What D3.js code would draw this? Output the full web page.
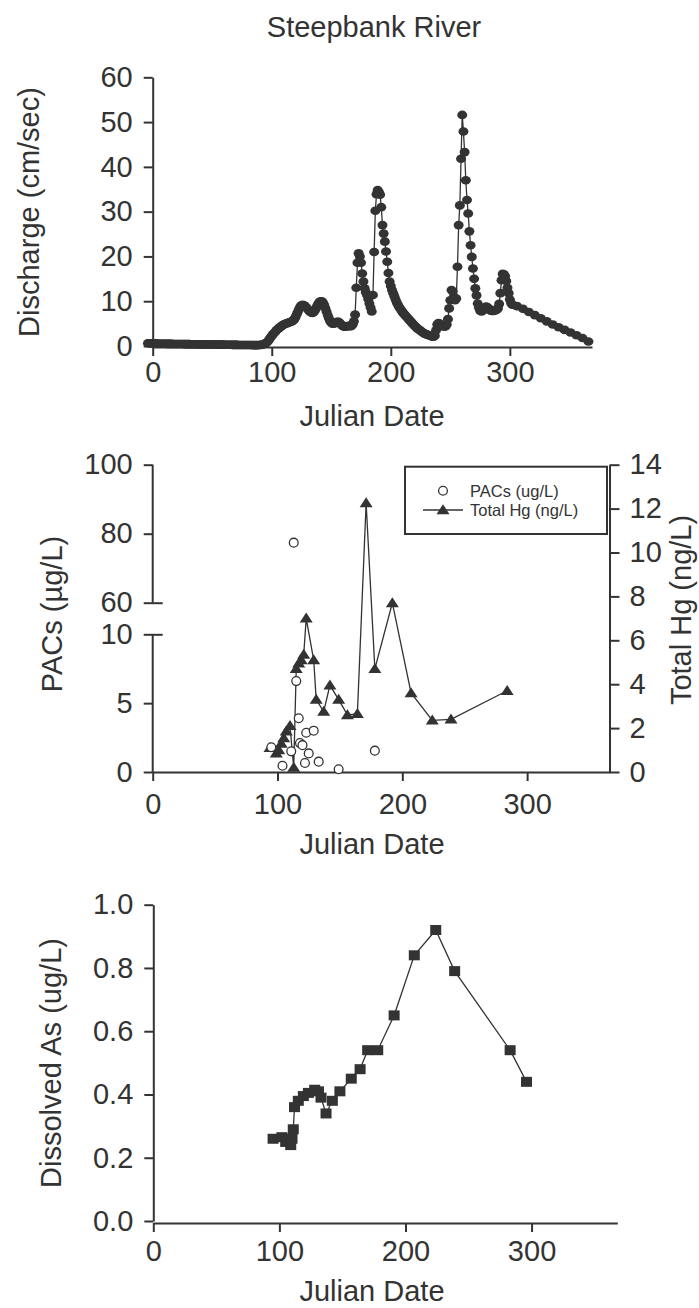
<!DOCTYPE html>
<html lang="en"><head>
<meta charset="utf-8">
<title>Steepbank River</title>
<script src="https://cdn.jsdelivr.net/npm/d3@7"></script>
<style>
body { margin: 0; background: #fff; }
svg text { font-family: "Liberation Sans", Arial, Helvetica, sans-serif; fill: #333; }
</style>
</head>
<body>
<svg id="fig" width="699" height="1308"></svg>
<script>

// daily discharge, first value is day -4, one value per day up to day 302
var dischargeStartDay = -4;
var dischargeDaily = [
  0.6,0.6,0.6,0.58,0.56,0.55,0.55,0.54,0.52,0.5,
  0.5,0.5,0.5,0.5,0.49,0.49,0.48,0.48,0.48,0.47,
  0.47,0.46,0.46,0.46,0.45,0.45,0.45,0.44,0.44,0.43,
  0.43,0.42,0.42,0.42,0.41,0.41,0.4,0.4,0.4,0.39,
  0.39,0.38,0.38,0.38,0.37,0.37,0.36,0.36,0.36,0.35,
  0.35,0.34,0.34,0.34,0.33,0.33,0.32,0.32,0.32,0.31,
  0.31,0.3,0.3,0.3,0.29,0.29,0.28,0.28,0.28,0.27,
  0.27,0.26,0.26,0.26,0.25,0.25,0.24,0.24,0.24,0.23,
  0.23,0.23,0.22,0.22,0.22,0.21,0.21,0.21,0.2,0.2,
  0.2,0.2,0.2,0.21,0.22,0.25,0.3,0.38,0.5,0.65,
  0.85,1.1,1.5,1.9,2.3,2.6,2.9,3.2,3.5,3.8,
  4.0,4.2,4.4,4.6,4.8,4.9,5.0,5.1,5.2,5.3,
  5.4,5.5,5.7,6.0,6.5,7.1,7.7,8.3,8.8,9.1,
  9.2,9.1,8.9,8.6,8.3,8.0,7.7,7.5,7.4,7.5,
  7.8,8.3,8.9,9.4,9.8,10.0,10.0,9.7,9.2,8.5,
  7.7,6.9,6.2,5.6,5.2,5.0,5.0,5.1,5.3,5.4,
  5.4,5.2,4.9,4.6,4.4,4.3,4.3,4.4,4.5,4.4,
  4.4,4.5,4.8,5.5,7.0,13.0,18.6,20.7,20.0,18.6,
  16.2,14.4,12.9,12.0,11.4,10.5,9.5,8.6,7.7,11.4,
  21.0,30.2,33.9,34.8,34.4,33.8,31.0,27.0,25.1,23.3,
  21.1,18.8,16.3,14.4,13.4,12.5,11.8,11.1,10.4,9.7,
  9.2,8.7,8.3,7.9,7.5,7.2,6.9,6.6,6.3,6.0,
  5.7,5.4,5.1,4.8,4.5,4.3,4.0,3.8,3.6,3.4,
  3.2,3.0,2.8,2.7,2.6,2.5,2.4,2.3,2.2,2.1,
  2.1,2.3,3.5,4.8,5.1,5.0,4.8,4.5,4.4,4.3,
  4.4,4.8,6.0,8.4,10.2,12.5,12.2,11.0,10.2,10.6,
  17.7,27.0,31.4,41.8,51.6,47.9,43.3,37.0,32.6,29.6,
  25.6,22.5,19.9,17.3,15.0,12.9,11.3,9.5,8.6,7.9,
  7.7,7.8,8.1,8.5,8.8,8.7,8.4,8.1,7.9,7.8,
  7.8,7.9,8.0,8.1,8.4,9.4,11.8,14.7,16.1,16.0,
  15.6,14.5,13.0,11.8,10.4,9.6,9.2
];
// late season readings, every 5 days
var dischargeTailDays = [306, 311, 316, 321, 326, 331, 336, 341, 346, 351, 356, 361, 366];
var dischargeTailValues = [8.9, 8.3, 7.6, 6.9, 6.2, 5.5, 4.8, 4.2, 3.6, 3.0, 2.4, 1.8, 1.0];

var hgDays = [94, 99, 101, 103, 105, 107, 110, 113, 115, 117, 119, 121, 123, 129, 131, 137, 142, 149, 156, 164, 171, 178, 192, 207, 224, 239, 284];
var hgValues = [1.1, 0.85, 1.0, 1.3, 1.55, 1.85, 2.1, 0.2, 4.7, 4.95, 5.1, 5.35, 7.0, 5.1, 3.3, 2.75, 3.95, 3.3, 2.6, 2.65, 12.25, 4.7, 7.7, 3.6, 2.35, 2.4, 3.7];

var pacDays = [95, 104, 111, 113, 115, 117, 118, 120, 122, 123, 125, 129, 133, 149, 178];
var pacValues = [1.8, 0.45, 1.5, 77.4, 6.6, 3.9, 2.1, 1.95, 0.65, 2.85, 1.35, 3.0, 0.75, 0.2, 1.55];

var asDays = [95, 102, 105, 109, 110, 111, 112, 115, 119, 123, 128, 131, 133, 137, 142, 148, 157, 164, 170, 178, 191, 207, 224, 239, 283, 296];
var asValues = [0.26, 0.265, 0.25, 0.24, 0.26, 0.29, 0.36, 0.38, 0.395, 0.405, 0.415, 0.41, 0.39, 0.34, 0.38, 0.41, 0.45, 0.48, 0.54, 0.54, 0.65, 0.84, 0.92, 0.79, 0.54, 0.44];

var dayTicks = [0, 100, 200, 300];
var dischargeTicks = [0, 10, 20, 30, 40, 50, 60];
var pacTicks = [0, 5, 10, 60, 80, 100];
var hgTicks = [0, 2, 4, 6, 8, 10, 12, 14];
var asTicks = [0, 0.2, 0.4, 0.6, 0.8, 1.0];

var ink = "#333";
var bigFont = 29;

var svg = d3.select("#fig");

function styleAxis(g) {
  g.selectAll("path, line").attr("stroke", ink).attr("stroke-width", 2);
  g.selectAll("text").attr("fill", ink).style("font-size", bigFont + "px");
}

function xLabel(x, y) {
  svg.append("text").attr("x", x).attr("y", y)
    .attr("text-anchor", "middle").style("font-size", bigFont + "px")
    .text("Julian Date");
}

function yLabel(x, y, label) {
  svg.append("text")
    .attr("transform", "translate(" + x + "," + y + ") rotate(-90)")
    .attr("text-anchor", "middle").style("font-size", bigFont + "px")
    .text(label);
}

svg.append("text").attr("x", 374).attr("y", 37)
  .attr("text-anchor", "middle").style("font-size", bigFont + "px")
  .text("Steepbank River");

// ---------- discharge ----------
var discharge = dischargeDaily.map(function (q, i) {
  return {day: dischargeStartDay + i, value: q};
}).concat(dischargeTailDays.map(function (d, i) {
  return {day: d, value: dischargeTailValues[i]};
}));

var x1 = d3.scaleLinear().domain([0, 369]).range([152.7, 592]);
var y1 = d3.scaleLinear().domain([0, 60]).range([346, 77.3]);

svg.append("g").attr("transform", "translate(0," + (y1(0) + 1) + ")")
  .call(d3.axisBottom(x1).tickValues(dayTicks).tickSize(9).tickSizeOuter(0).tickPadding(5))
  .call(styleAxis);
svg.append("g").attr("transform", "translate(" + x1(0) + ",0)")
  .call(d3.axisLeft(y1).tickValues(dischargeTicks).tickSize(9).tickSizeOuter(0).tickPadding(11))
  .call(styleAxis);

svg.append("path").datum(discharge)
  .attr("fill", "none").attr("stroke", ink).attr("stroke-width", 1.3)
  .attr("d", d3.line().x(function (d) { return x1(d.day); }).y(function (d) { return y1(d.value); }));

svg.append("g").selectAll("ellipse").data(discharge).enter().append("ellipse")
  .attr("cx", function (d) { return x1(d.day); })
  .attr("cy", function (d) { return y1(d.value); })
  .attr("rx", 5).attr("ry", 4.3)
  .attr("fill", ink);

xLabel(372, 426);
yLabel(38.5, 212, "Discharge (cm/sec)");

// ---------- PACs and total Hg ----------
var x2 = d3.scaleLinear().domain([0, 366]).range([152.7, 609.5]);
// broken left axis: 0-10 below the break, 60-100 above it
var y2 = d3.scaleLinear().domain([0, 10, 60, 100]).range([772, 634.3, 602.7, 464.7]);
var y2r = d3.scaleLinear().domain([0, 14]).range([772, 464.7]);

svg.append("g").attr("transform", "translate(0,772)")
  .call(d3.axisBottom(x2).tickValues(dayTicks).tickSize(9).tickSizeOuter(0).tickPadding(12))
  .call(styleAxis);

var leftAxis = svg.append("g").attr("transform", "translate(" + x2(0) + ",0)")
  .call(d3.axisLeft(y2).tickValues(pacTicks).tickSize(9).tickPadding(11))
  .call(styleAxis);
leftAxis.select(".domain").remove();
leftAxis.selectAll(".tick").filter(function (d) { return d === 10 || d === 60; })
  .select("line").attr("x1", 10);
[[0, 10], [60, 100]].forEach(function (seg) {
  leftAxis.append("line")
    .attr("x1", 0).attr("x2", 0)
    .attr("y1", y2(seg[0])).attr("y2", y2(seg[1]))
    .attr("stroke", ink).attr("stroke-width", 2);
});

svg.append("g").attr("transform", "translate(" + x2.range()[1] + ",0)")
  .call(d3.axisRight(y2r).tickValues(hgTicks).tickSize(10).tickSizeOuter(0).tickPadding(10))
  .call(styleAxis);

var hg = hgDays.map(function (d, i) { return {day: d, value: hgValues[i]}; });
var pac = pacDays.map(function (d, i) { return {day: d, value: pacValues[i]}; });

var triangle = "M0,-5.8L6.5,4.2L-6.5,4.2Z";

svg.append("path").datum(hg)
  .attr("fill", "none").attr("stroke", ink).attr("stroke-width", 1.3)
  .attr("d", d3.line().x(function (d) { return x2(d.day); }).y(function (d) { return y2r(d.value); }));

svg.append("g").selectAll("path").data(hg).enter().append("path")
  .attr("d", triangle)
  .attr("transform", function (d) { return "translate(" + x2(d.day) + "," + y2r(d.value) + ")"; })
  .attr("fill", ink);

svg.append("g").selectAll("circle").data(pac).enter().append("circle")
  .attr("cx", function (d) { return x2(d.day); })
  .attr("cy", function (d) { return y2(d.value); })
  .attr("r", 4.4)
  .attr("fill", "#fff").attr("stroke", ink).attr("stroke-width", 1.3);

// legend
var legend = svg.append("g");
legend.append("rect").attr("x", 405).attr("y", 466.7).attr("width", 202).attr("height", 67.3)
  .attr("fill", "#fff").attr("stroke", ink).attr("stroke-width", 2);
legend.append("circle").attr("cx", 443).attr("cy", 490.7).attr("r", 4.4)
  .attr("fill", "#fff").attr("stroke", ink).attr("stroke-width", 1.3);
legend.append("text").attr("x", 470).attr("y", 496.5).style("font-size", "16.5px").text("PACs (ug/L)");
legend.append("line").attr("x1", 423).attr("x2", 463).attr("y1", 510).attr("y2", 510)
  .attr("stroke", ink).attr("stroke-width", 1.3);
legend.append("path").attr("d", triangle).attr("transform", "translate(443,510)").attr("fill", ink);
legend.append("text").attr("x", 470).attr("y", 515.8).style("font-size", "16.5px").text("Total Hg (ng/L)");

xLabel(372, 854);
yLabel(62, 614, "PACs (\u00b5g/L)");
yLabel(691, 610, "Total Hg (ng/L)");

// ---------- dissolved As ----------
var x3 = d3.scaleLinear().domain([0, 368]).range([153.3, 617.3]);
var y3 = d3.scaleLinear().domain([0, 1]).range([1221, 904.7]);

svg.append("g").attr("transform", "translate(0," + (y3(0) + 2) + ")")
  .call(d3.axisBottom(x3).tickValues(dayTicks).tickSize(9).tickSizeOuter(0).tickPadding(8))
  .call(styleAxis);
svg.append("g").attr("transform", "translate(" + x3(0) + ",0)")
  .call(d3.axisLeft(y3).tickValues(asTicks).tickFormat(d3.format(".1f")).tickSize(9).tickSizeOuter(0).tickPadding(11))
  .call(styleAxis);

var arsenic = asDays.map(function (d, i) { return {day: d, value: asValues[i]}; });

svg.append("path").datum(arsenic)
  .attr("fill", "none").attr("stroke", ink).attr("stroke-width", 1.3)
  .attr("d", d3.line().x(function (d) { return x3(d.day); }).y(function (d) { return y3(d.value); }));

svg.append("g").selectAll("rect").data(arsenic).enter().append("rect")
  .attr("x", function (d) { return x3(d.day) - 5.5; })
  .attr("y", function (d) { return y3(d.value) - 5; })
  .attr("width", 11).attr("height", 10)
  .attr("fill", ink);

xLabel(372, 1301);
yLabel(61, 1063, "Dissolved As (ug/L)");

</script>
</body></html>
